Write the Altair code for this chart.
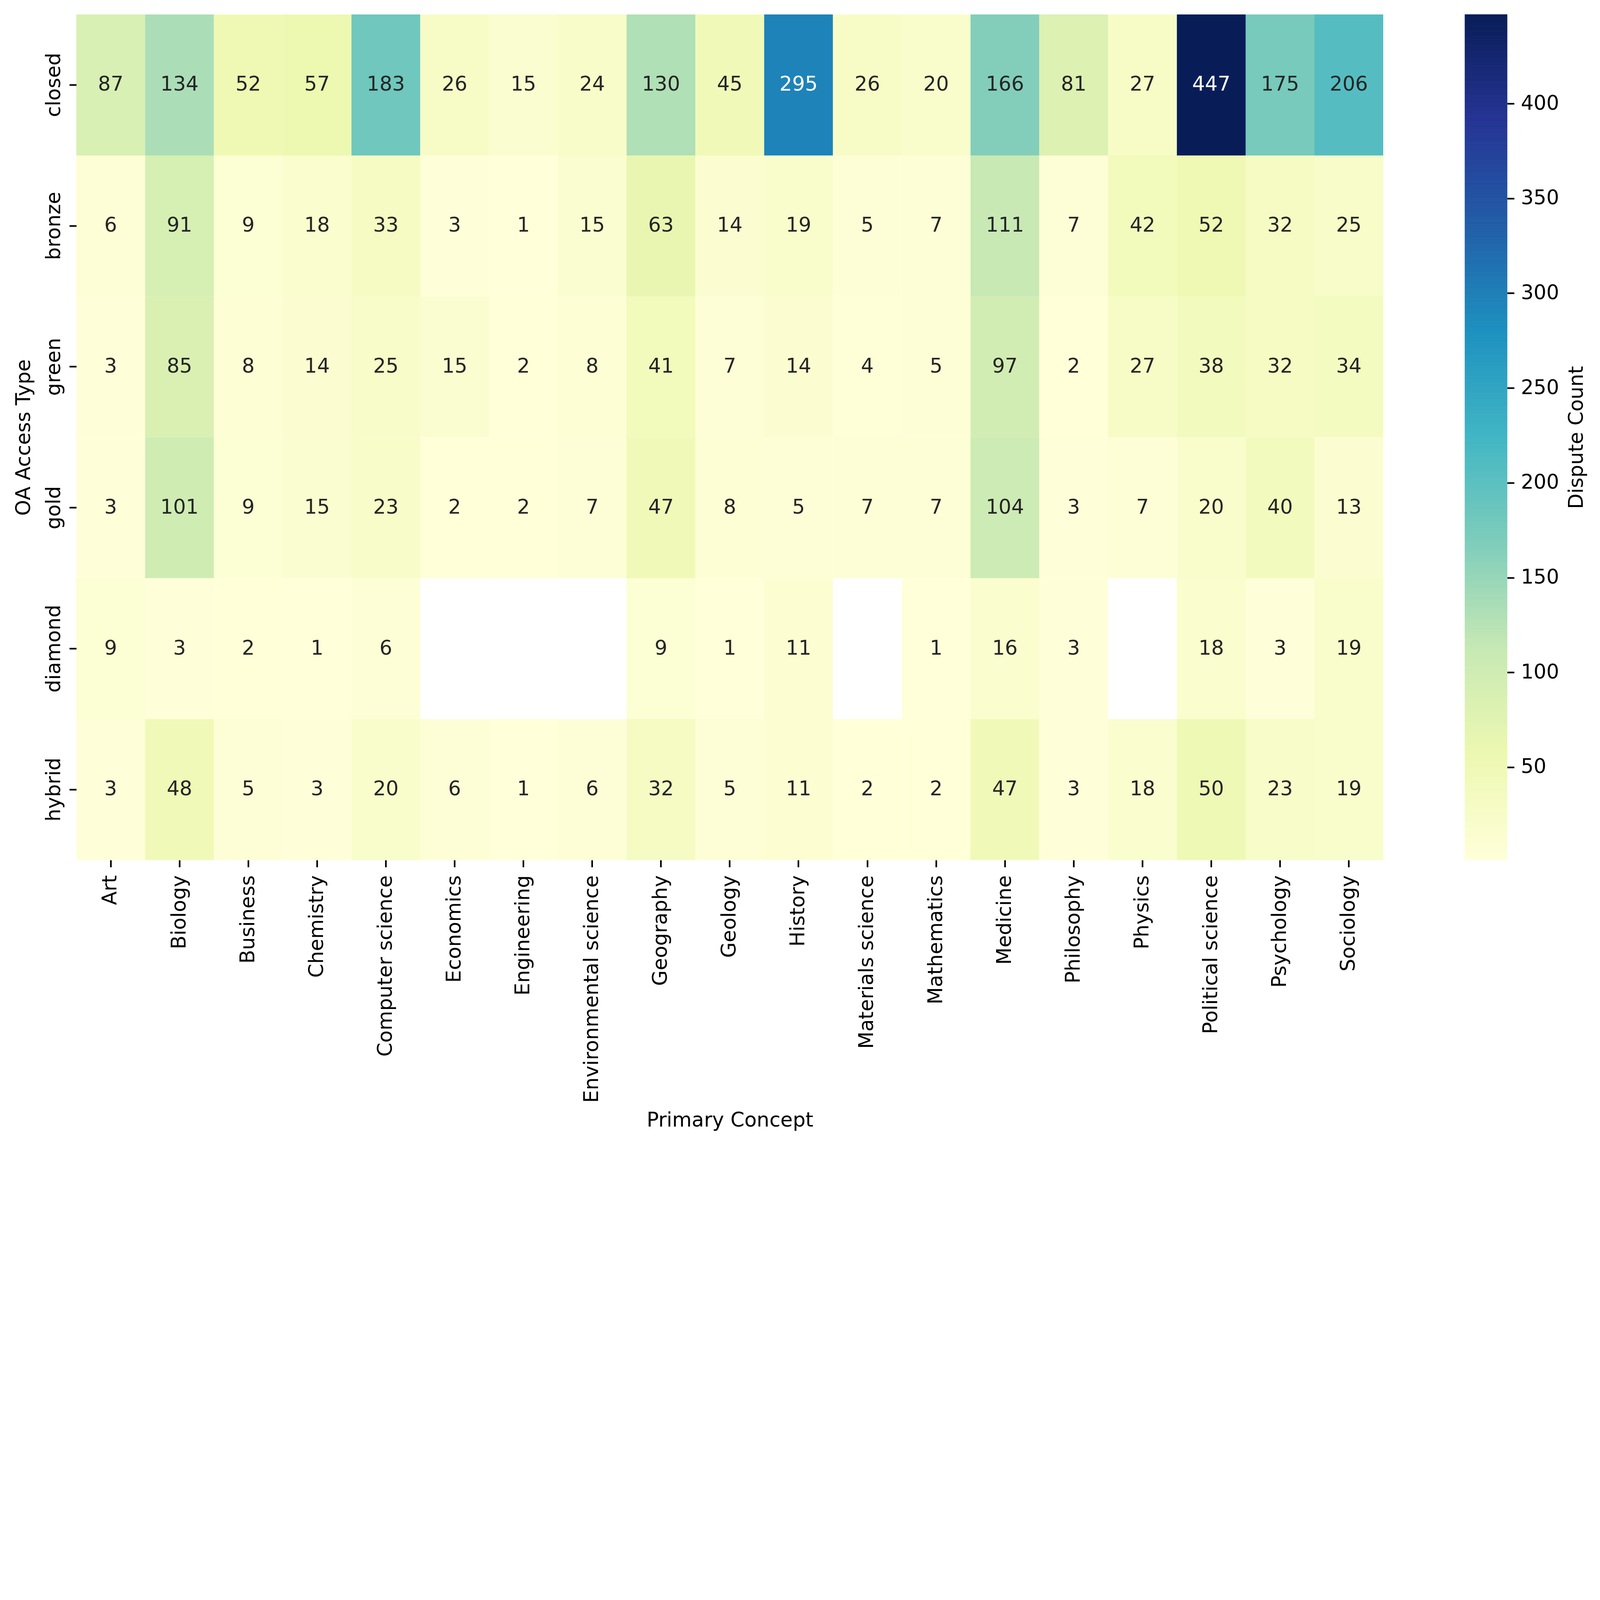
import altair as alt
import pandas as pd

concepts = ["Art", "Biology", "Business", "Chemistry", "Computer science", "Economics",
            "Engineering", "Environmental science", "Geography", "Geology", "History",
            "Materials science", "Mathematics", "Medicine", "Philosophy", "Physics",
            "Political science", "Psychology", "Sociology"]
oa_types = ["closed", "bronze", "green", "gold", "diamond", "hybrid"]

closed  = [87, 134, 52, 57, 183, 26, 15, 24, 130, 45, 295, 26, 20, 166, 81, 27, 447, 175, 206]
bronze  = [6, 91, 9, 18, 33, 3, 1, 15, 63, 14, 19, 5, 7, 111, 7, 42, 52, 32, 25]
green   = [3, 85, 8, 14, 25, 15, 2, 8, 41, 7, 14, 4, 5, 97, 2, 27, 38, 32, 34]
gold    = [3, 101, 9, 15, 23, 2, 2, 7, 47, 8, 5, 7, 7, 104, 3, 7, 20, 40, 13]
diamond = [9, 3, 2, 1, 6, None, None, None, 9, 1, 11, None, 1, 16, 3, None, 18, 3, 19]
hybrid  = [3, 48, 5, 3, 20, 6, 1, 6, 32, 5, 11, 2, 2, 47, 3, 18, 50, 23, 19]

cbar_ticks = [50, 100, 150, 200, 250, 300, 350, 400]

series = {"closed": closed, "bronze": bronze, "green": green,
          "gold": gold, "diamond": diamond, "hybrid": hybrid}

rows = []
for t in oa_types:
    for c, v in zip(concepts, series[t]):
        if v is not None:
            rows.append({"concept": c, "oa": t, "n": v})
df = pd.DataFrame(rows)

vmin, vmax = 1, 447
ylgnbu = ["#ffffd9", "#edf8b1", "#c7e9b4", "#7fcdbb", "#41b6c4",
          "#1d91c0", "#225ea8", "#253494", "#081d58"]
stops = [vmin + i * (vmax - vmin) / 8 for i in range(9)]
color_scale = alt.Scale(domain=stops, range=ylgnbu, interpolate="rgb")

# colorbar gradient slices
lo = list(range(vmin, vmax))
cb = pd.DataFrame({"lo": lo, "hi": [v + 1 for v in lo], "n": [v + 0.5 for v in lo]})

# sizes in CSS px (page is rendered at ~1.617 device pixel ratio)
K = 1 / 1.6173
FONT = "DejaVu Sans"
FS = 83 * K
TICK = 29 * K
TW = 6.7 * K
W, H = 5411 * K, 3501 * K

x_enc = alt.X("concept:N", sort=concepts, title="Primary Concept",
              scale=alt.Scale(paddingInner=0, paddingOuter=0),
              axis=alt.Axis(labelAngle=270, labelAlign="right", labelBaseline="middle",
                            labelPadding=33 * K, titleY=1102 * K, titleBaseline="alphabetic",
                            titleAlign="center"))
y_enc = alt.Y("oa:N", sort=oa_types, title="OA Access Type",
              scale=alt.Scale(paddingInner=0, paddingOuter=0),
              axis=alt.Axis(labelAngle=270, labelAlign="center", labelBaseline="alphabetic",
                            labelPadding=39 * K, titleX=-192 * K, titleBaseline="alphabetic",
                            titleAngle=270, titleAlign="center"))

base = alt.Chart(df).encode(x=x_enc, y=y_enc)

heat = base.mark_rect().encode(
    color=alt.Color("n:Q", scale=color_scale, legend=None),
)

text = base.mark_text(font=FONT, fontSize=FS, baseline="middle", align="center").encode(
    text=alt.Text("n:Q", format="d"),
    color=alt.condition(alt.datum.n > 250, alt.value("white"), alt.value("#262626")),
)

cbar = alt.Chart(cb).mark_rect(strokeWidth=0.8).encode(
    x=alt.value(5749 * K), x2=alt.value(5924 * K),
    y=alt.Y("lo:Q", scale=alt.Scale(domain=[vmin, vmax], nice=False, zero=False),
            axis=alt.Axis(orient="right", offset=513 * K, values=cbar_ticks, format="d",
                          title="Dispute Count", titleAngle=270, titleBaseline="top",
                          titleAlign="center", titlePadding=31 * K, labelPadding=27 * K,
                          labelAlign="left", labelBaseline="middle")),
    y2="hi:Q",
    color=alt.Color("n:Q", scale=color_scale, legend=None),
    stroke=alt.Stroke("n:Q", scale=color_scale, legend=None),
)

chart = alt.layer(alt.layer(heat, text), cbar).resolve_scale(y="independent").properties(
    width=W, height=H,
    autosize=alt.AutoSizeParams(type="none"),
    padding={"left": 316 * K - 8, "top": 60 * K - 8, "right": 530, "bottom": 712},
    background="white",
).configure_view(stroke=None).configure_axis(
    domain=False, labelFont=FONT, titleFont=FONT, labelFontSize=FS, titleFontSize=FS,
    titleFontWeight="normal", labelColor="black", titleColor="black",
    tickSize=TICK, tickWidth=TW, tickColor="black", grid=False, labelLimit=0,
    labelOverlap=False,
)

chart.save("out.html", embed_options={"renderer": "svg", "actions": False})
